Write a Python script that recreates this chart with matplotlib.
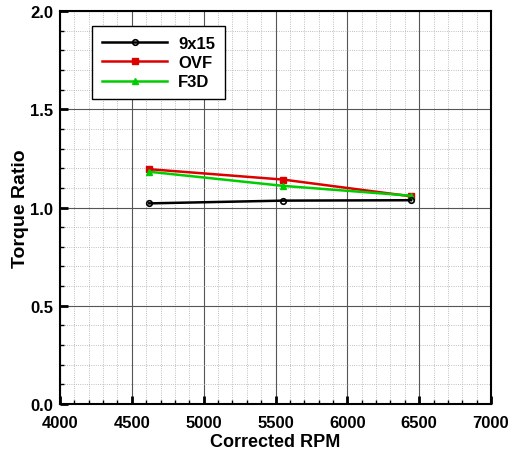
import numpy as np
import matplotlib.pyplot as plt
from matplotlib.ticker import MultipleLocator

rpm = [4621, 5554, 6443]
ratio_9x15 = [1.021, 1.035, 1.037]
ratio_ovf = [1.195, 1.142, 1.057]
ratio_f3d = [1.182, 1.110, 1.060]

plt.rcParams['font.family'] = ['Liberation Sans', 'DejaVu Sans']

fig = plt.figure(figsize=(5.16, 4.56), dpi=100)
ax = fig.add_axes([60 / 516, 1 - 405 / 456, 431 / 516, 393 / 456])

ax.plot(rpm, ratio_9x15, color='black', lw=1.8, marker='o', ms=4,
        mfc='none', mec='black', mew=1.2, label='9x15', zorder=5)
ax.plot(rpm, ratio_ovf, color='#dd0000', lw=1.8, marker='s', ms=4,
        mec='#dd0000', label='OVF', zorder=4)
ax.plot(rpm, ratio_f3d, color='#00cc00', lw=1.8, marker='^', ms=4,
        mec='#00cc00', label='F3D', zorder=4)

ax.set_xlim(4000, 7000)
ax.set_ylim(0, 2.0)
ax.xaxis.set_major_locator(MultipleLocator(500))
ax.xaxis.set_minor_locator(MultipleLocator(100))
ax.yaxis.set_major_locator(MultipleLocator(0.5))
ax.yaxis.set_minor_locator(MultipleLocator(0.1))
ax.yaxis.set_major_formatter(plt.FormatStrFormatter('%.1f'))

ax.grid(True, which='major', color='#555555', lw=0.8)
ax.grid(True, which='minor', color='#aaaaaa', lw=0.6, ls=':')
ax.set_axisbelow(True)

ax.tick_params(which='major', direction='in', length=6, width=2, labelsize=12)
ax.tick_params(axis='x', which='major', pad=8)
ax.tick_params(axis='y', which='major', pad=5)
ax.tick_params(which='minor', direction='in', length=3, width=1)
for lab in ax.get_xticklabels() + ax.get_yticklabels():
    lab.set_fontweight('bold')
for s in ax.spines.values():
    s.set_linewidth(1.5)

ax.set_xlabel('Corrected RPM', fontsize=13, fontweight='bold', labelpad=2)
ax.set_ylabel('Torque Ratio', fontsize=14, fontweight='bold', labelpad=1)

leg = ax.legend(loc='upper left', bbox_to_anchor=((92 - 60) / 431, 1 - (27 - 12) / 393),
                borderaxespad=0, frameon=True, fancybox=False, edgecolor='black',
                framealpha=1, prop={'weight': 'bold', 'size': 12}, handlelength=3.9,
                borderpad=0.6, labelspacing=0.25, handletextpad=0.66)
leg.get_frame().set_linewidth(1.0)

fig.savefig('out.png', dpi=100)
